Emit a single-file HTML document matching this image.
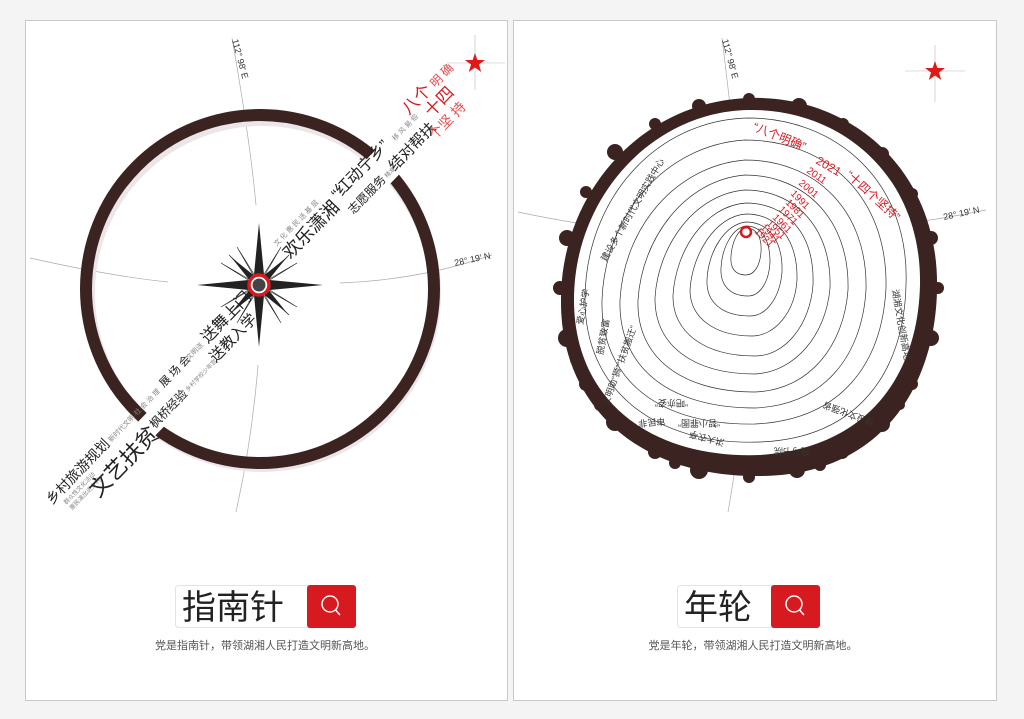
<!DOCTYPE html>
<html><head><meta charset="utf-8"><style>
html,body{margin:0;padding:0;background:#fff;}
svg{display:block;font-family:"Liberation Sans","Noto Sans CJK SC",sans-serif;}
</style></head><body>
<svg width="1024" height="719" viewBox="0 0 1024 719" xmlns="http://www.w3.org/2000/svg">
<rect width="1024" height="719" fill="#f4f4f4"/>
<rect x="25.5" y="20.5" width="482" height="680" fill="#fff" stroke="#c8c8c8"/>
<rect x="513.5" y="20.5" width="483" height="680" fill="#fff" stroke="#c8c8c8"/>

<!-- LEFT PANEL -->
<path d="M232 38 Q250 140 256 205" fill="none" stroke="#aaa" stroke-width="0.7"/>
<path d="M258 365 Q252 440 236 512" fill="none" stroke="#aaa" stroke-width="0.7"/>
<path d="M30 258 Q110 276 168 282" fill="none" stroke="#aaa" stroke-width="0.7"/>
<path d="M340 283 Q420 280 492 255" fill="none" stroke="#aaa" stroke-width="0.7"/>
<text x="0" y="0" font-size="9" fill="#333" transform="translate(232,40) rotate(75)">112° 98′ E</text>
<text x="0" y="0" font-size="9" fill="#333" transform="translate(455,266) rotate(-12)">28° 19′ N</text>
<circle cx="262" cy="293" r="173" fill="none" stroke="#ece6e8" stroke-width="12"/>
<circle cx="260" cy="289" r="174" fill="none" stroke="#3a2320" stroke-width="12"/>
<!-- band cut -->
<g transform="translate(259,285) rotate(-46)">
<rect x="100" y="-10" width="160" height="34" fill="#fff"/>
<rect x="-200" y="8" width="40" height="22" fill="#fff"/>
</g>
<!-- compass rose -->
<g transform="translate(259,285)">
<g stroke="#222" stroke-width="0.6" fill="#fff">
<polygon points="0,0 -30,-30 -3,-5"/><polygon points="0,0 30,-30 5,-3"/><polygon points="0,0 30,30 3,5"/><polygon points="0,0 -30,30 -5,3"/>
<polygon points="0,0 -22,-38 -2,-6"/><polygon points="0,0 22,-38 2,-6"/><polygon points="0,0 38,-22 6,-2"/><polygon points="0,0 38,22 6,2"/>
<polygon points="0,0 22,38 2,6"/><polygon points="0,0 -22,38 -2,6"/><polygon points="0,0 -38,22 -6,2"/><polygon points="0,0 -38,-22 -6,-2"/>
</g>
<g fill="#222">
<polygon points="0,-62 -6,0 6,0"/><polygon points="0,62 -6,0 6,0"/><polygon points="-62,0 0,-6 0,6"/><polygon points="64,0 0,-6 0,6"/>
<polygon points="-28,-28 -4,2 2,-4"/><polygon points="28,28 4,-2 -2,4"/><polygon points="28,-28 4,2 -2,-4"/><polygon points="-28,28 -4,-2 2,4"/>
</g>
<circle r="10" fill="#fff" stroke="#d71920" stroke-width="3.5"/>
<circle r="6.5" fill="#444"/>
</g>
<!-- band text -->
<g transform="translate(259,285) rotate(-46)" fill="#222">
<text x="-302" y="4" font-size="14">乡村旅游规划</text>
<text x="-216" y="3" font-size="7" fill="#888">新时代文明 社 会 治 理</text>
<text x="-140" y="3" font-size="11">展 场 会</text>
<text x="-103" y="2" font-size="7" fill="#888">文明送</text>
<text x="-78" y="4" font-size="16">送舞上门</text>
<text x="-292" y="14" font-size="6" fill="#888">群众性文化活动</text>
<text x="-292" y="22" font-size="6" fill="#888">惠民演出进乡村</text>
<text x="-265" y="33" font-size="22">文艺扶贫</text>
<text x="-176" y="25" font-size="12">枫桥经验</text>
<text x="-126" y="23" font-size="6" fill="#888">乡村学校少年宫</text>
<text x="-86" y="23" font-size="15">送教入学</text>
<text x="40" y="-14" font-size="7" fill="#888">文 化 惠 民 送 基 层</text>
<text x="40" y="5" font-size="18">欢乐潇湘</text>
<text x="116" y="-2" font-size="16">“红动宁乡”</text>
<text x="116" y="19" font-size="12">志愿服务</text>
<text x="166" y="18" font-size="6" fill="#888">精准</text>
<text x="176" y="19" font-size="15">结对帮扶</text>
<text x="198" y="-2" font-size="7" fill="#888">移 风 易 俗</text>
</g>
<g transform="translate(259,285) rotate(-46)" fill="#d71920">
<text x="226" y="-10" font-size="17">八个</text>
<text x="264" y="-10" font-size="12" fill="#e05050">明 确</text>
<text x="240" y="8" font-size="17">十四</text>
<text x="226" y="26" font-size="14" fill="#e05050">个坚 持</text>
</g>
<!-- star -->
<line x1="447" y1="63" x2="505" y2="63" stroke="#bbb" stroke-width="0.6"/>
<line x1="475" y1="35" x2="475" y2="90" stroke="#bbb" stroke-width="0.6"/>
<polygon points="475,53 477.4,60 485,60 479,64.5 481.2,72 475,67.5 468.8,72 471,64.5 465,60 472.6,60" fill="#e01818"/>

<rect x="175.5" y="585.5" width="180" height="42" rx="3" fill="#fff" stroke="#e3e3e3"/>
<rect x="307" y="585" width="49" height="43" rx="3" fill="#d71920"/>
<circle cx="330" cy="604" r="8" fill="none" stroke="#fff" stroke-width="1.5"/>
<line x1="335.5" y1="610" x2="340" y2="615" stroke="#fff" stroke-width="1.5"/>
<text x="182" y="619" font-size="34" fill="#222">指南针</text>
<text x="265" y="649" font-size="11" fill="#555" text-anchor="middle">党是指南针，带领湖湘人民打造文明新高地。</text>

<!-- RIGHT PANEL -->
<path d="M722 38 Q742 200 746 285 Q745 420 728 512" fill="none" stroke="#aaa" stroke-width="0.7"/>
<path d="M518 212 Q640 238 746 235 Q880 232 986 210" fill="none" stroke="#aaa" stroke-width="0.7"/>
<text x="0" y="0" font-size="9" fill="#333" transform="translate(722,40) rotate(75)">112° 98′ E</text>
<text x="0" y="0" font-size="9" fill="#333" transform="translate(944,220) rotate(-12)">28° 19′ N</text>
<!-- stump -->
<g fill="#3a2320">
<path d="M748 98 C850 94 940 170 937 290 C935 390 878 476 760 476 C642 478 560 408 561 300 C561 192 642 102 748 98 Z"/>
<circle cx="938" cy="288" r="6"/><circle cx="931" cy="338" r="8"/><circle cx="912" cy="384" r="6"/><circle cx="882" cy="424" r="8"/>
<circle cx="842" cy="452" r="7"/><circle cx="797" cy="470" r="8"/><circle cx="749" cy="477" r="6"/><circle cx="699" cy="470" r="9"/>
<circle cx="655" cy="452" r="7"/><circle cx="615" cy="422" r="9"/><circle cx="586" cy="384" r="7"/><circle cx="567" cy="338" r="9"/>
<circle cx="560" cy="288" r="7"/><circle cx="567" cy="238" r="8"/><circle cx="586" cy="192" r="6"/><circle cx="615" cy="152" r="8"/>
<circle cx="655" cy="124" r="6"/><circle cx="699" cy="106" r="7"/><circle cx="749" cy="99" r="6"/><circle cx="799" cy="106" r="8"/>
<circle cx="843" cy="124" r="6"/><circle cx="882" cy="154" r="7"/><circle cx="912" cy="194" r="6"/><circle cx="931" cy="238" r="7"/>
<circle cx="600" cy="405" r="6"/><circle cx="575" cy="360" r="5"/><circle cx="900" cy="405" r="5"/><circle cx="820" cy="465" r="6"/><circle cx="675" cy="463" r="6"/>
</g>
<path d="M748 110 C840 108 922 175 920 285 C918 375 868 448 760 455 C650 459 574 400 574 300 C574 197 652 112 748 110 Z" fill="#fff"/>
<g fill="none" stroke="#333" stroke-width="0.7">
<path d="M748 118 C835 118 910 180 906 285 C904 370 860 438 760 442 C655 446 585 390 585 300 C585 200 655 120 748 118 Z"/>
<path d="M745 140 C825 140 888 195 886 288 C882 365 840 420 755 424 C660 426 600 380 602 300 C605 215 665 145 745 140 Z"/>
<path d="M745 160 C815 160 868 210 866 290 C862 355 825 405 755 408 C670 408 618 368 620 300 C624 228 675 166 745 160 Z"/>
<path d="M745 175 C805 175 850 220 848 290 C844 345 810 390 755 392 C680 392 636 356 638 300 C642 238 685 180 745 175 Z"/>
<path d="M745 190 C795 190 832 228 830 288 C826 335 795 372 755 374 C692 374 654 344 655 298 C658 245 695 194 745 190 Z"/>
<path d="M746 203 C785 203 815 232 813 285 C810 325 785 356 755 356 C704 356 672 332 673 295 C676 250 705 206 746 203 Z"/>
<path d="M746 214 C776 214 798 238 797 280 C795 312 775 336 752 336 C715 336 690 318 690 290 C692 255 715 216 746 214 Z"/>
<path d="M746 222 C768 222 783 240 782 272 C780 298 766 316 750 316 C722 316 706 302 707 280 C708 252 725 224 746 222 Z"/>
<path d="M746 226 C762 226 770 240 770 262 C769 282 760 296 748 296 C730 296 720 285 721 268 C722 248 732 228 746 226 Z"/>
<path d="M746 228 C757 228 762 238 761 252 C760 266 754 275 746 275 C735 275 730 268 731 256 C732 242 738 229 746 228 Z"/>
</g>
<circle cx="746" cy="232" r="5" fill="none" stroke="#d71920" stroke-width="2.5"/>
<g fill="#d71920" font-size="10">
<text x="0" y="0" font-size="12" transform="translate(752,130) rotate(22)">“八个明确”</text>
<text x="0" y="0" font-size="12" transform="translate(815,163) rotate(30)">2021</text>
<text x="0" y="0" font-size="12" transform="translate(845,176) rotate(42)">“十四个坚持”</text>
<text x="0" y="0" transform="translate(806,172) rotate(35)">2011</text>
<text x="0" y="0" transform="translate(798,184) rotate(40)">2001</text>
<text x="0" y="0" transform="translate(790,194) rotate(45)">1991</text>
<text x="0" y="0" transform="translate(785,203) rotate(45)">1981</text>
<text x="0" y="0" transform="translate(778,210) rotate(45)">1971</text>
<text x="0" y="0" transform="translate(772,218) rotate(45)">1961</text>
<text x="0" y="0" transform="translate(766,224) rotate(45)">1951</text>
<text x="0" y="0" transform="translate(760,228) rotate(45)">1941</text>
<text x="0" y="0" transform="translate(754,232) rotate(45)">1921</text>
</g>
<g fill="#333" font-size="9">
<text x="0" y="0" transform="translate(606,262) rotate(-60)">建设多个新时代文明实践中心</text>
<text x="0" y="0" transform="translate(583,325) rotate(-80)">爱心护学</text>
<text x="0" y="0" transform="translate(603,355) rotate(-80)">脱贫致富</text>
<text x="0" y="0" transform="translate(608,406) rotate(-70)">文明助“狮”“扶贫搬迁”</text>
<text x="0" y="0" transform="translate(688,400) rotate(180)">“吧亦姿”</text>
<text x="0" y="0" transform="translate(720,420) rotate(180)">“智小罪图”</text>
<text x="0" y="0" transform="translate(665,418) rotate(175)">审民非</text>
<text x="0" y="0" transform="translate(725,440) rotate(-165)">洪大农亭</text>
<text x="0" y="0" transform="translate(810,448) rotate(180)">圆与书院</text>
<text x="0" y="0" transform="translate(875,420) rotate(-160)">建设文化强省</text>
<text x="0" y="0" transform="translate(892,290) rotate(80)">湖湘文化创新高地</text>
</g>
<!-- star -->
<line x1="905" y1="71" x2="965" y2="71" stroke="#bbb" stroke-width="0.6"/>
<line x1="935" y1="45" x2="935" y2="102" stroke="#bbb" stroke-width="0.6"/>
<polygon points="935,61 937.4,68 945,68 939,72.5 941.2,80 935,75.5 928.8,80 931,72.5 925,68 932.6,68" fill="#e01818"/>

<rect x="677.5" y="585.5" width="142" height="42" rx="3" fill="#fff" stroke="#e3e3e3"/>
<rect x="771" y="585" width="49" height="43" rx="3" fill="#d71920"/>
<circle cx="794" cy="604" r="8" fill="none" stroke="#fff" stroke-width="1.5"/>
<line x1="799.5" y1="610" x2="804" y2="615" stroke="#fff" stroke-width="1.5"/>
<text x="684" y="619" font-size="34" fill="#222">年轮</text>
<text x="753" y="649" font-size="11" fill="#555" text-anchor="middle">党是年轮，带领湖湘人民打造文明新高地。</text>
</svg>
</body></html>
